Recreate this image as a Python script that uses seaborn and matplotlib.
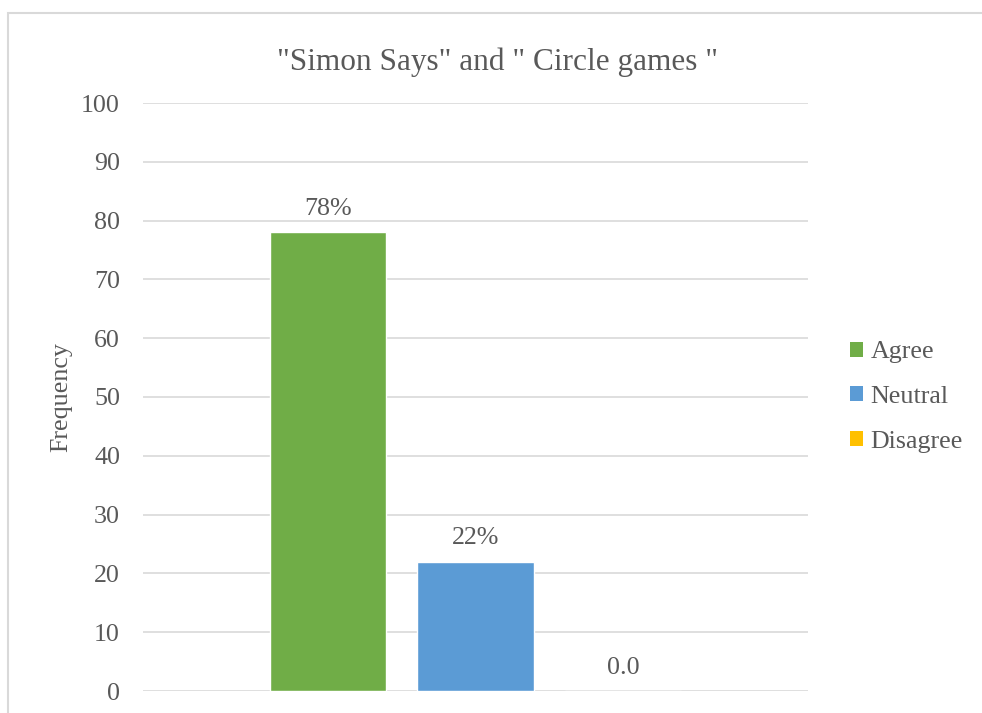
import matplotlib
matplotlib.use("Agg")
import matplotlib.pyplot as plt
import seaborn as sns
import pandas as pd
from matplotlib.patches import Rectangle, Patch

series = ["Agree", "Neutral", "Disagree"]
values = [78, 22, 0]
labels = ["78%", "22%", "0.0"]
colors = ["#70AD47", "#5B9BD5", "#FFC000"]
yticks = [0, 10, 20, 30, 40, 50, 60, 70, 80, 90, 100]
title = '"Simon Says" and " Circle games "'

sns.set_theme(style="white")
plt.rcParams['font.family'] = 'serif'
plt.rcParams['font.serif'] = ['Liberation Serif', 'Times New Roman', 'DejaVu Serif']

W, H = 982, 713
FS = 18.7
fig = plt.figure(figsize=(W / 100, H / 100), dpi=100)
ax = fig.add_axes([143 / W, 1 - 691 / H, (808 - 143) / W, (691 - 103) / H])

df = pd.DataFrame({"series": series, "value": values})
sns.barplot(data=df, x="series", y="value", hue="series", palette=colors,
            order=series, hue_order=series, dodge=False, width=0.79,
            legend=False, ax=ax, saturation=1)

txt = "#595959"
ax.set_ylim(0, 100)
ax.set_xlim(-1.254, 3.254)
ax.set_yticks(yticks)
ax.set_yticklabels([str(t) for t in yticks], fontsize=FS, color=txt)
ax.set_xticks([])
ax.set_xlabel("")
ax.set_ylabel("")
ax.tick_params(axis="y", length=0, pad=16.5)
ax.yaxis.grid(True, color="#D9D9D9", linewidth=1.2)
ax.set_axisbelow(True)
for s in ax.spines.values():
    s.set_visible(False)

fig.text(61 / W, 1 - 397 / H, "Frequency", rotation=90, ha="center", va="center",
         fontsize=FS, color=txt)

for i, (v, lab) in enumerate(zip(values, labels)):
    ax.annotate(lab, (i, v), xytext=(0, 12.5), textcoords="offset points",
                ha="center", va="baseline", fontsize=FS, color=txt)

fig.text(498 / W, 1 - 70 / H, title, ha="center", va="baseline", fontsize=22.5, color=txt)

handles = [Patch(facecolor=c, edgecolor="none") for c in colors]
leg = fig.legend(handles, series, loc="center left", bbox_to_anchor=(850 / W, 1 - 397 / H),
                 frameon=False, fontsize=FS, handlelength=0.5, handleheight=0.5,
                 handletextpad=0.28, labelspacing=0.87, borderaxespad=0, borderpad=0)
for t in leg.get_texts():
    t.set_color(txt)

fig.patches.append(Rectangle((8 / W, -0.1), 1.2, 1.1 - 13 / H, transform=fig.transFigure,
                             fill=False, edgecolor="#D9D9D9", linewidth=1.5))

fig.savefig("out.png", dpi=100)
